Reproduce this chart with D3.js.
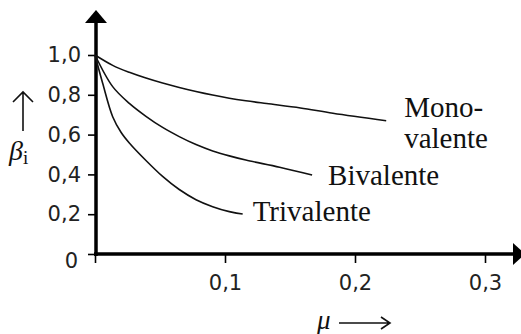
<!DOCTYPE html>
<html>
<head>
<meta charset="utf-8">
<script src="https://cdn.jsdelivr.net/npm/d3@7"></script>
<style>
  body { margin: 0; background: #fff; }
  svg { display: block; }
</style>
</head>
<body>
<div id="chart"></div>
<script>
// Curves (mu -> beta_i)
const seriesNames = ['Mono-|valente', 'Bivalente', 'Trivalente'];
const monoMu   = [0, 0.0136, 0.0264, 0.0392, 0.052, 0.0648, 0.0777, 0.0905, 0.1033, 0.116, 0.132, 0.158, 0.183, 0.224];
const monoBeta = [1.0, 0.948, 0.913, 0.884, 0.859, 0.837, 0.817, 0.799, 0.783, 0.770, 0.756, 0.734, 0.707, 0.670];
const biMu     = [0, 0.0136, 0.0264, 0.0392, 0.052, 0.0648, 0.0777, 0.0905, 0.1033, 0.116, 0.142, 0.167];
const biBeta   = [1.0, 0.841, 0.757, 0.692, 0.636, 0.590, 0.550, 0.518, 0.493, 0.472, 0.436, 0.397];
const triMu    = [0, 0.0059, 0.0136, 0.020, 0.0264, 0.0392, 0.052, 0.0648, 0.0777, 0.0905, 0.1033, 0.1136];
const triBeta  = [1.0, 0.858, 0.690, 0.612, 0.558, 0.470, 0.390, 0.324, 0.273, 0.238, 0.213, 0.201];

// Ticks
const xTicks = [0, 0.1, 0.2, 0.3];
const xTickLabels = ['', '0,1', '0,2', '0,3'];
const yTicks = [0, 0.2, 0.4, 0.6, 0.8, 1.0];
const yTickLabels = ['0', '0,2', '0,4', '0,6', '0,8', '1,0'];

const width = 521, height = 334;

const svg = d3.select('#chart')
    .append('svg')
    .attr('width', width)
    .attr('height', height);

const x = d3.scaleLinear().domain([0, 0.3]).range([95, 485]);
const y = d3.scaleLinear().domain([0, 1]).range([254, 55]);

const axisX = x(0) + 1;   // where the vertical axis sits
const axisY = y(0);

// x axis ticks and labels
const gx = svg.append('g')
    .attr('transform', `translate(0, ${axisY})`)
    .call(d3.axisBottom(x)
        .tickValues(xTicks)
        .tickSize(9)
        .tickPadding(12)
        .tickFormat((d, i) => xTickLabels[i]));

// y axis ticks and labels
const gy = svg.append('g')
    .attr('transform', `translate(${axisX}, 0)`)
    .call(d3.axisLeft(y)
        .tickValues(yTicks)
        .tickSize(8)
        .tickPadding(7)
        .tickFormat((d, i) => yTickLabels[i]));

[gx, gy].forEach(g => {
    g.select('.domain').remove();
    g.selectAll('.tick line').attr('stroke', '#000').attr('stroke-width', 1.6);
    g.selectAll('.tick text')
        .attr('fill', '#222')
        .style('font-family', '"DejaVu Sans", sans-serif')
        .style('font-size', '21px');
});
// the "0" label sits a little lower than its tick
gy.selectAll('.tick text').filter(d => d === 0).attr('dy', '0.65em').attr('x', -18);

// thick axis lines with filled arrowheads
svg.append('line')
    .attr('x1', axisX).attr('x2', axisX)
    .attr('y1', axisY + 2).attr('y2', 20)
    .attr('stroke', '#000').attr('stroke-width', 3.5);
svg.append('path')
    .attr('d', `M${axisX - 11},23 L${axisX},10 L${axisX + 11},23 Z`)
    .attr('fill', '#000');

svg.append('line')
    .attr('x1', axisX - 2).attr('x2', 515)
    .attr('y1', axisY).attr('y2', axisY)
    .attr('stroke', '#000').attr('stroke-width', 3.5);
svg.append('path')
    .attr('d', `M513,${axisY - 11} L525,${axisY} L513,${axisY + 11} Z`)
    .attr('fill', '#000');

// curves
const series = [
    { name: seriesNames[0], mu: monoMu, beta: monoBeta, dx: 18, dy: -4 },
    { name: seriesNames[1], mu: biMu, beta: biBeta, dx: 16, dy: 10 },
    { name: seriesNames[2], mu: triMu, beta: triBeta, dx: 10, dy: 7 }
];

const line = d3.line()
    .x(d => x(d[0]))
    .y(d => y(d[1]))
    .curve(d3.curveCatmullRom.alpha(0.5));

series.forEach(s => {
    const pts = s.mu.map((m, i) => [m, s.beta[i]]);
    svg.append('path')
        .attr('d', line(pts))
        .attr('fill', 'none')
        .attr('stroke', '#111')
        .attr('stroke-width', 1.6);

    const last = pts[pts.length - 1];
    const t = svg.append('text')
        .attr('x', x(last[0]) + s.dx)
        .attr('y', y(last[1]) + s.dy)
        .attr('fill', '#111')
        .style('font-family', '"Liberation Serif", serif')
        .style('font-size', '29px');
    s.name.split('|').forEach((part, i) => {
        t.append('tspan')
            .attr('x', x(last[0]) + s.dx)
            .attr('dy', i === 0 ? 0 : 31)
            .text(part);
    });
});

// y title: arrow above beta_i
svg.append('path')
    .attr('d', 'M23,131 L23,92 M13,102 L23,92 L33,102')
    .attr('fill', 'none')
    .attr('stroke', '#111')
    .attr('stroke-width', 1.6);
const yt = svg.append('text')
    .attr('x', 9).attr('y', 160)
    .attr('fill', '#111')
    .style('font-family', '"Liberation Serif", serif');
yt.append('tspan').style('font-style', 'italic').style('font-size', '28px').text('β');
yt.append('tspan').attr('dy', 4).style('font-size', '19px').text('i');

// x title: mu followed by long arrow
svg.append('text')
    .attr('x', 317).attr('y', 329)
    .attr('fill', '#111')
    .style('font-family', '"Liberation Serif", serif')
    .style('font-style', 'italic')
    .style('font-size', '27px')
    .text('μ');
svg.append('path')
    .attr('d', 'M339,323 L390,323 M381,317 L390,323 L381,329')
    .attr('fill', 'none')
    .attr('stroke', '#111')
    .attr('stroke-width', 1.6);
</script>
</body>
</html>
